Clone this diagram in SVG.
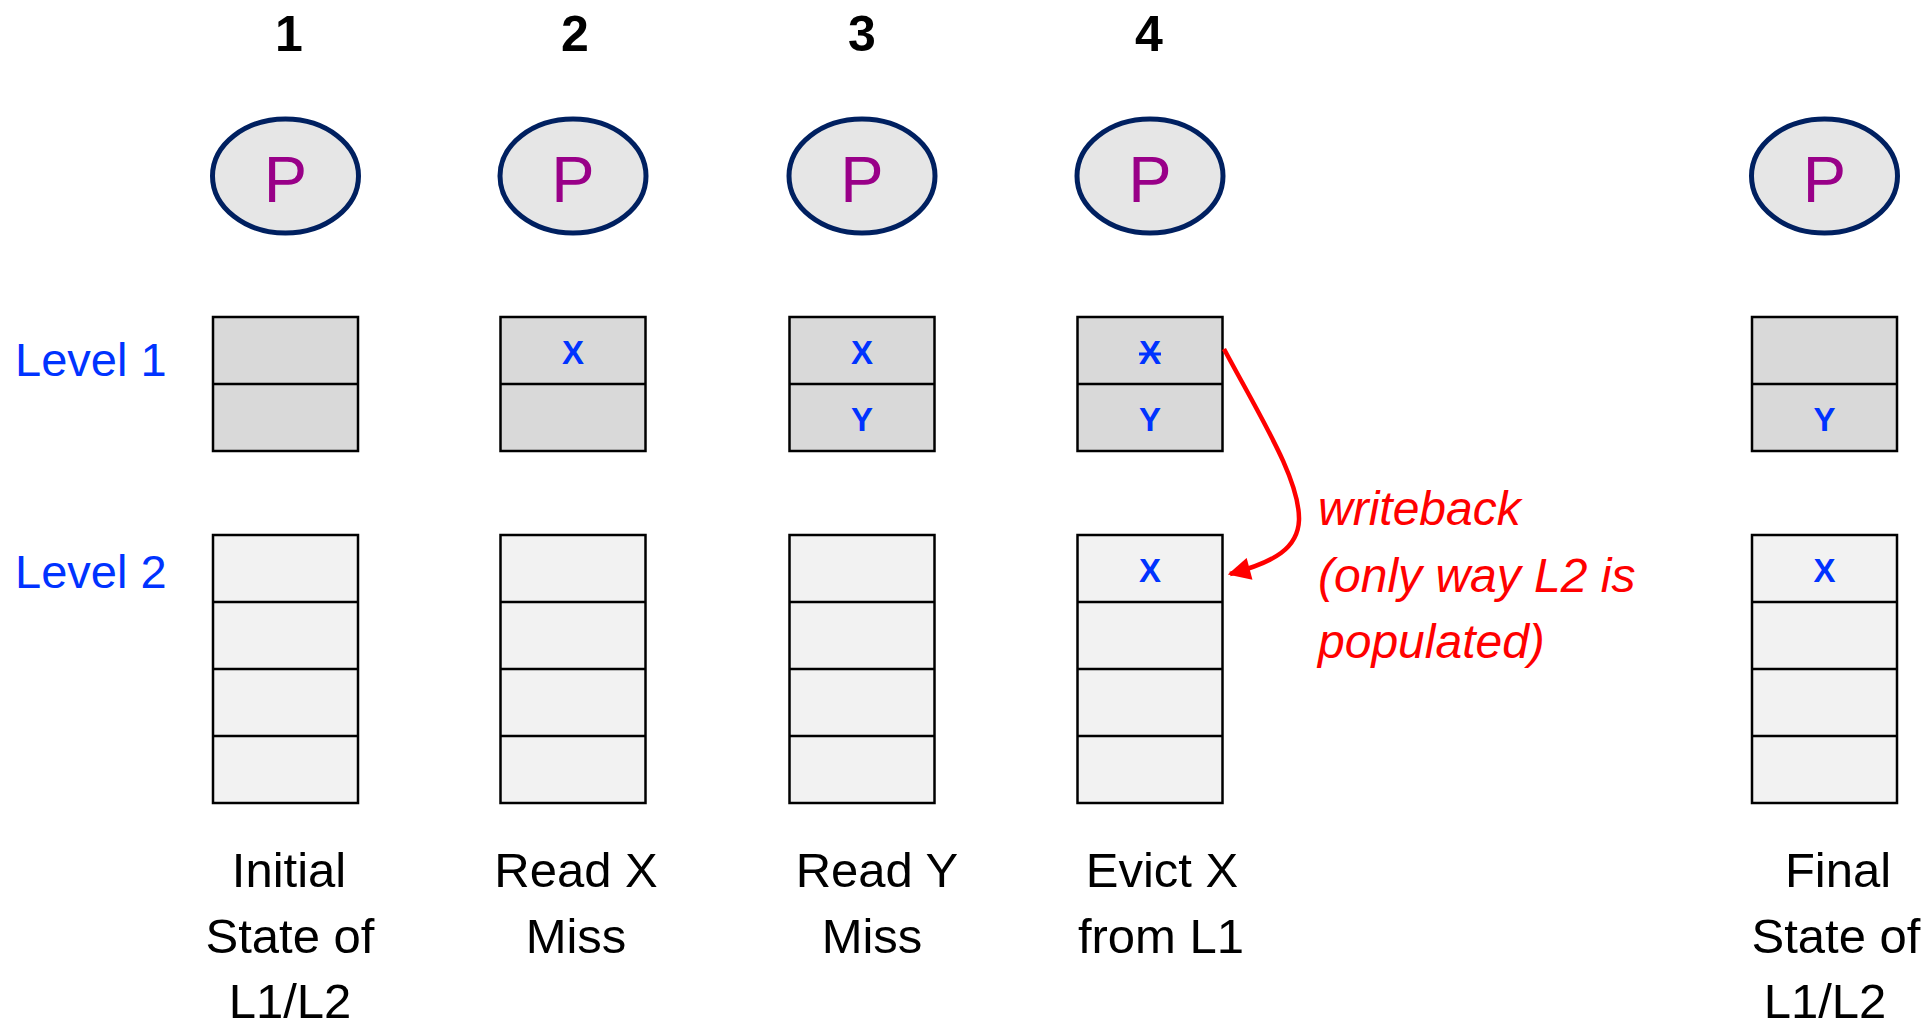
<svg xmlns="http://www.w3.org/2000/svg" width="1930" height="1029" viewBox="0 0 1930 1029">
  <defs>
    <style>
      .step { font-family: "Liberation Sans", Arial, sans-serif; font-weight: bold; font-size: 50px; fill: #000; text-anchor: middle; }
      .proc { fill: #e6e6e6; stroke: #002060; stroke-width: 5; }
      .ptxt { font-family: "Liberation Sans", Arial, sans-serif; font-size: 65px; fill: #990088; text-anchor: middle; }
      .l1 { fill: #d9d9d9; stroke: #000; stroke-width: 2.5; }
      .l2 { fill: #f2f2f2; stroke: #000; stroke-width: 2.5; }
      .div { stroke: #000; stroke-width: 2.5; }
      .val { font-family: "Liberation Sans", Arial, sans-serif; font-weight: bold; font-size: 33px; fill: #0033ff; text-anchor: middle; }
      .lvl { font-family: "Liberation Sans", Arial, sans-serif; font-size: 47px; fill: #0033ff; }
      .cap { font-family: "Liberation Sans", Arial, sans-serif; font-size: 49px; fill: #000; text-anchor: middle; }
      .note { font-family: "Liberation Sans", Arial, sans-serif; font-style: italic; font-size: 48px; fill: #ff0000; }
      .wb { fill: none; stroke: #ff0000; stroke-width: 4.5; }
    </style>
    <!-- two-line L1 cache: 145 x 134 -->
    <g id="l1cache">
      <rect class="l1" x="0" y="0" width="145" height="134"/>
      <line class="div" x1="0" y1="67" x2="145" y2="67"/>
    </g>
    <!-- four-line L2 cache: 145 x 268 -->
    <g id="l2cache">
      <rect class="l2" x="0" y="0" width="145" height="268"/>
      <line class="div" x1="0" y1="67" x2="145" y2="67"/>
      <line class="div" x1="0" y1="134" x2="145" y2="134"/>
      <line class="div" x1="0" y1="201" x2="145" y2="201"/>
    </g>
    <marker id="arrow" viewBox="0 0 10 10" refX="9" refY="5" markerWidth="5.5" markerHeight="5" orient="auto" markerUnits="strokeWidth">
      <path d="M0,0 L10,5 L0,10 z" fill="#ff0000"/>
    </marker>
  </defs>

  <rect width="1930" height="1029" fill="#ffffff"/>

  <!-- level labels -->
  <g id="level-labels">
    <text class="lvl" x="15" y="376">Level 1</text>
    <text class="lvl" x="15" y="588">Level 2</text>
  </g>

  <!-- step 1: initial state -->
  <g id="step1">
    <text class="step" x="289" y="51">1</text>
    <ellipse class="proc" cx="285.5" cy="176" rx="73" ry="57"/>
    <text class="ptxt" x="285.5" y="202">P</text>
    <use href="#l1cache" x="213" y="317"/>
    <use href="#l2cache" x="213" y="535"/>
    <text class="cap" x="289" y="887">Initial</text>
    <text class="cap" x="290" y="953">State of</text>
    <text class="cap" x="290" y="1018">L1/L2</text>
  </g>

  <!-- step 2: read X miss -->
  <g id="step2">
    <text class="step" x="575" y="51">2</text>
    <ellipse class="proc" cx="573" cy="176" rx="73" ry="57"/>
    <text class="ptxt" x="573" y="202">P</text>
    <use href="#l1cache" x="500.5" y="317"/>
    <text class="val" x="573" y="364">X</text>
    <use href="#l2cache" x="500.5" y="535"/>
    <text class="cap" x="576" y="887">Read X</text>
    <text class="cap" x="576" y="953">Miss</text>
  </g>

  <!-- step 3: read Y miss -->
  <g id="step3">
    <text class="step" x="862" y="51">3</text>
    <ellipse class="proc" cx="862" cy="176" rx="73" ry="57"/>
    <text class="ptxt" x="862" y="202">P</text>
    <use href="#l1cache" x="789.5" y="317"/>
    <text class="val" x="862" y="364">X</text>
    <text class="val" x="862" y="431">Y</text>
    <use href="#l2cache" x="789.5" y="535"/>
    <text class="cap" x="877" y="887">Read Y</text>
    <text class="cap" x="872" y="953">Miss</text>
  </g>

  <!-- step 4: evict X from L1 -->
  <g id="step4">
    <text class="step" x="1149" y="51">4</text>
    <ellipse class="proc" cx="1150" cy="176" rx="73" ry="57"/>
    <text class="ptxt" x="1150" y="202">P</text>
    <use href="#l1cache" x="1077.5" y="317"/>
    <text class="val" x="1150" y="364">X</text>
    <line x1="1139" y1="354" x2="1161" y2="354" stroke="#0033ff" stroke-width="3"/>
    <text class="val" x="1150" y="431">Y</text>
    <use href="#l2cache" x="1077.5" y="535"/>
    <text class="val" x="1150" y="582">X</text>
    <text class="cap" x="1162" y="887">Evict X</text>
    <text class="cap" x="1161" y="953">from L1</text>
  </g>

  <!-- final state -->
  <g id="final">
    <ellipse class="proc" cx="1824.5" cy="176" rx="73" ry="57"/>
    <text class="ptxt" x="1824.5" y="202">P</text>
    <use href="#l1cache" x="1752" y="317"/>
    <text class="val" x="1824.5" y="431">Y</text>
    <use href="#l2cache" x="1752" y="535"/>
    <text class="val" x="1824.5" y="582">X</text>
    <text class="cap" x="1838" y="887">Final</text>
    <text class="cap" x="1836" y="953">State of</text>
    <text class="cap" x="1825" y="1018">L1/L2</text>
  </g>

  <!-- writeback connector -->
  <g id="connectors">
    <path class="wb" d="M1224,349 C1262,420 1300,480 1299,520 C1298,548 1275,562 1230,574" marker-end="url(#arrow)"/>
  </g>

  <g id="writeback-note">
    <text class="note" x="1318" y="525">writeback</text>
    <text class="note" x="1318" y="592">(only way L2 is</text>
    <text class="note" x="1318" y="658">populated)</text>
  </g>
</svg>
